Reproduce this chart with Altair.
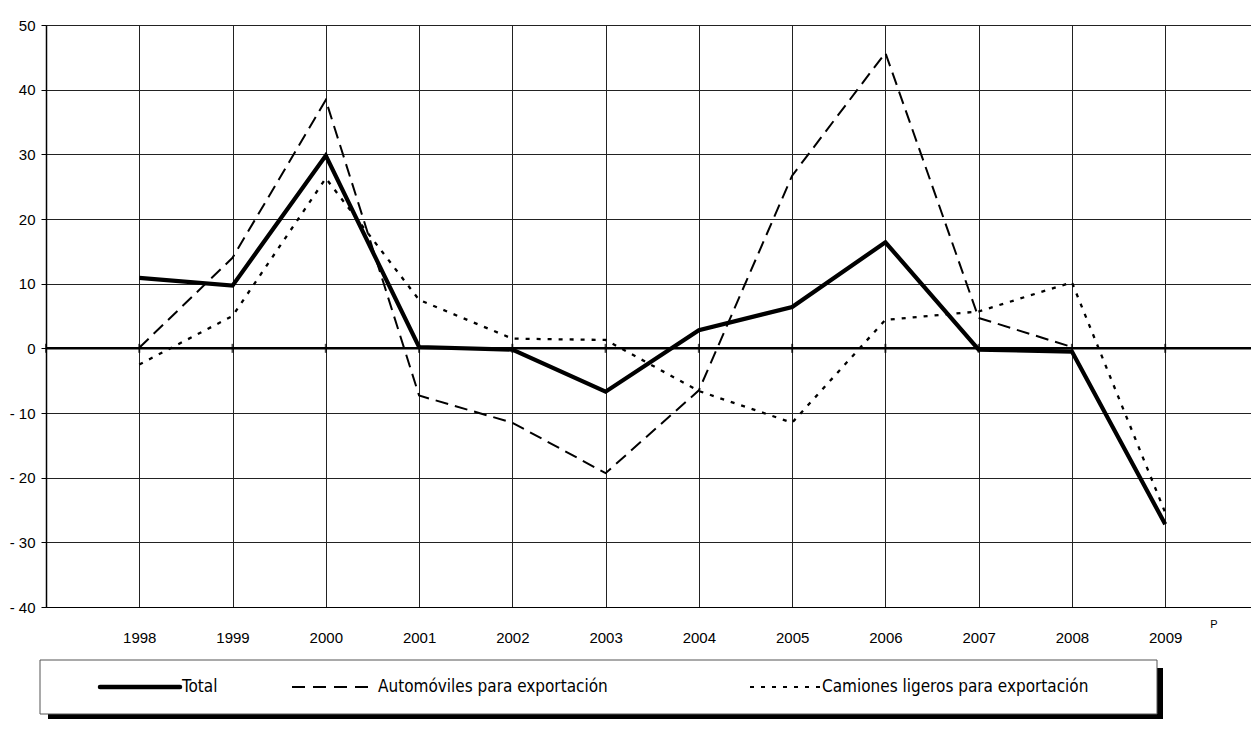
import altair as alt
import pandas as pd

# ---- data ----
years = [1998, 1999, 2000, 2001, 2002, 2003, 2004, 2005, 2006, 2007, 2008, 2009]
total = [10.9, 9.7, 29.8, 0.2, -0.2, -6.7, 2.8, 6.4, 16.4, -0.2, -0.5, -27.2]
automoviles = [0.1, 14.0, 38.4, -7.3, -11.5, -19.3, -6.5, 26.7, 45.7, 4.7, 0.2, None]
camiones = [-2.5, 5.0, 26.3, 7.5, 1.5, 1.3, -6.6, -11.5, 4.4, 5.7, 10.2, -25.4]
grid_years = [1997] + years
y_ticks = [-40, -30, -20, -10, 0, 10, 20, 30, 40, 50]
series_names = ["Total", "Automóviles para exportación", "Camiones ligeros para exportación"]

rows = []
for name, vals in zip(series_names, [total, automoviles, camiones]):
    for yr, v in zip(years, vals):
        if v is not None:
            rows.append({"year": yr, "value": v, "serie": name})
df = pd.DataFrame(rows)

FONT = "Liberation Sans"
LFONT = "Liberation Sans Narrow, Arial Narrow, DejaVu Sans Condensed, Liberation Sans"
W, H = 1205, 582

x_scale = alt.Scale(domain=[1997, 2009.92], nice=False, zero=False)
y_scale = alt.Scale(domain=[-40, 50], nice=False)

x_axis = alt.Axis(
    values=grid_years, format="d", title=None,
    labelExpr="datum.value == 1997 ? '' : datum.label",
    grid=True, gridColor="#222222", gridWidth=1,
    ticks=False, tickSize=0, labelPadding=23,
    domain=True, domainColor="#000000", domainWidth=1.2,
    labelFont=FONT, labelFontSize=15, labelColor="#000000",
)
y_axis = alt.Axis(
    values=y_ticks, title=None,
    labelExpr="datum.value < 0 ? '- ' + abs(datum.value) : datum.label",
    grid=True, gridColor="#222222", gridWidth=1,
    ticks=True, tickSize=5, tickColor="#000000", tickWidth=1,
    labelPadding=6, domain=True, domainColor="#000000", domainWidth=1.5,
    labelFont=FONT, labelFontSize=15, labelColor="#000000",
)

base = alt.Chart(df).encode(
    x=alt.X("year:Q", scale=x_scale, axis=x_axis),
    y=alt.Y("value:Q", scale=y_scale, axis=y_axis),
)

auto_line = base.transform_filter(alt.datum.serie == series_names[1]).mark_line(
    color="black", strokeWidth=2, strokeDash=[13, 7])
cam_line = base.transform_filter(alt.datum.serie == series_names[2]).mark_line(
    color="black", strokeWidth=2.3, strokeDash=[4, 7])
total_line = base.transform_filter(alt.datum.serie == series_names[0]).mark_line(
    color="black", strokeWidth=4.2)

zero_rule = alt.Chart(pd.DataFrame({"z": [0]})).mark_rule(
    color="black", strokeWidth=2.5).encode(y=alt.Y("z:Q", scale=y_scale))
zero_ticks = alt.Chart(pd.DataFrame({"year": grid_years, "z": [0] * len(grid_years)})).mark_tick(
    orient="vertical", color="black", size=9, thickness=2).encode(
    x=alt.X("year:Q", scale=x_scale), y=alt.Y("z:Q", scale=y_scale))

# superscript P next to the 2009 label
sup_p = alt.Chart(pd.DataFrame({"year": [2009], "t": ["P"]})).mark_text(
    font=FONT, fontSize=11, align="left", baseline="middle", dx=45).encode(
    x=alt.X("year:Q", scale=x_scale), y=alt.value(H + 18), text="t:N")

# ---- legend box (decoration) ----
one = pd.DataFrame({"a": [0]})
leg_top, leg_bot = 635, 689
leg_shadow_r = alt.Chart(one).mark_rect(color="black").encode(
    x=alt.value(1111), x2=alt.value(1117), y=alt.value(leg_top + 8), y2=alt.value(leg_bot + 5))
leg_shadow_b = alt.Chart(one).mark_rect(color="black").encode(
    x=alt.value(2), x2=alt.value(1117), y=alt.value(leg_bot), y2=alt.value(leg_bot + 5))
leg_box = alt.Chart(one).mark_rect(fill="white", stroke="#555555", strokeWidth=1).encode(
    x=alt.value(-6), x2=alt.value(1111), y=alt.value(leg_top), y2=alt.value(leg_bot))
ly = (leg_top + leg_bot) / 2
leg_l1 = alt.Chart(one).mark_rule(color="black", strokeWidth=4.5, strokeCap="round").encode(
    x=alt.value(54), x2=alt.value(134), y=alt.value(ly))
leg_l2 = alt.Chart(one).mark_rule(color="black", strokeWidth=2.2, strokeDash=[13, 8]).encode(
    x=alt.value(246), x2=alt.value(327), y=alt.value(ly))
leg_l3 = alt.Chart(one).mark_rule(color="black", strokeWidth=2.2, strokeDash=[4, 7]).encode(
    x=alt.value(704), x2=alt.value(774), y=alt.value(ly))
leg_t1 = alt.Chart(pd.DataFrame({"t": [series_names[0]]})).mark_text(
    font=LFONT, fontSize=17, align="left", baseline="middle").encode(
    x=alt.value(136), y=alt.value(ly), text="t:N")
leg_t2 = alt.Chart(pd.DataFrame({"t": [series_names[1]]})).mark_text(
    font=LFONT, fontSize=17, align="left", baseline="middle").encode(
    x=alt.value(332), y=alt.value(ly), text="t:N")
leg_t3 = alt.Chart(pd.DataFrame({"t": [series_names[2]]})).mark_text(
    font=LFONT, fontSize=17, align="left", baseline="middle").encode(
    x=alt.value(776), y=alt.value(ly), text="t:N")

chart = alt.layer(
    auto_line, cam_line, zero_rule, zero_ticks, total_line, sup_p,
    leg_shadow_r, leg_shadow_b, leg_box, leg_l1, leg_l2, leg_l3, leg_t1, leg_t2, leg_t3,
).properties(
    width=W, height=H,
    autosize=alt.AutoSizeParams(type="none"),
    padding={"left": 38, "top": 17, "right": 0, "bottom": 120},
).configure_view(stroke=None).configure(background="white")

chart.save("out.html", embed_options={"renderer": "svg", "actions": False})
